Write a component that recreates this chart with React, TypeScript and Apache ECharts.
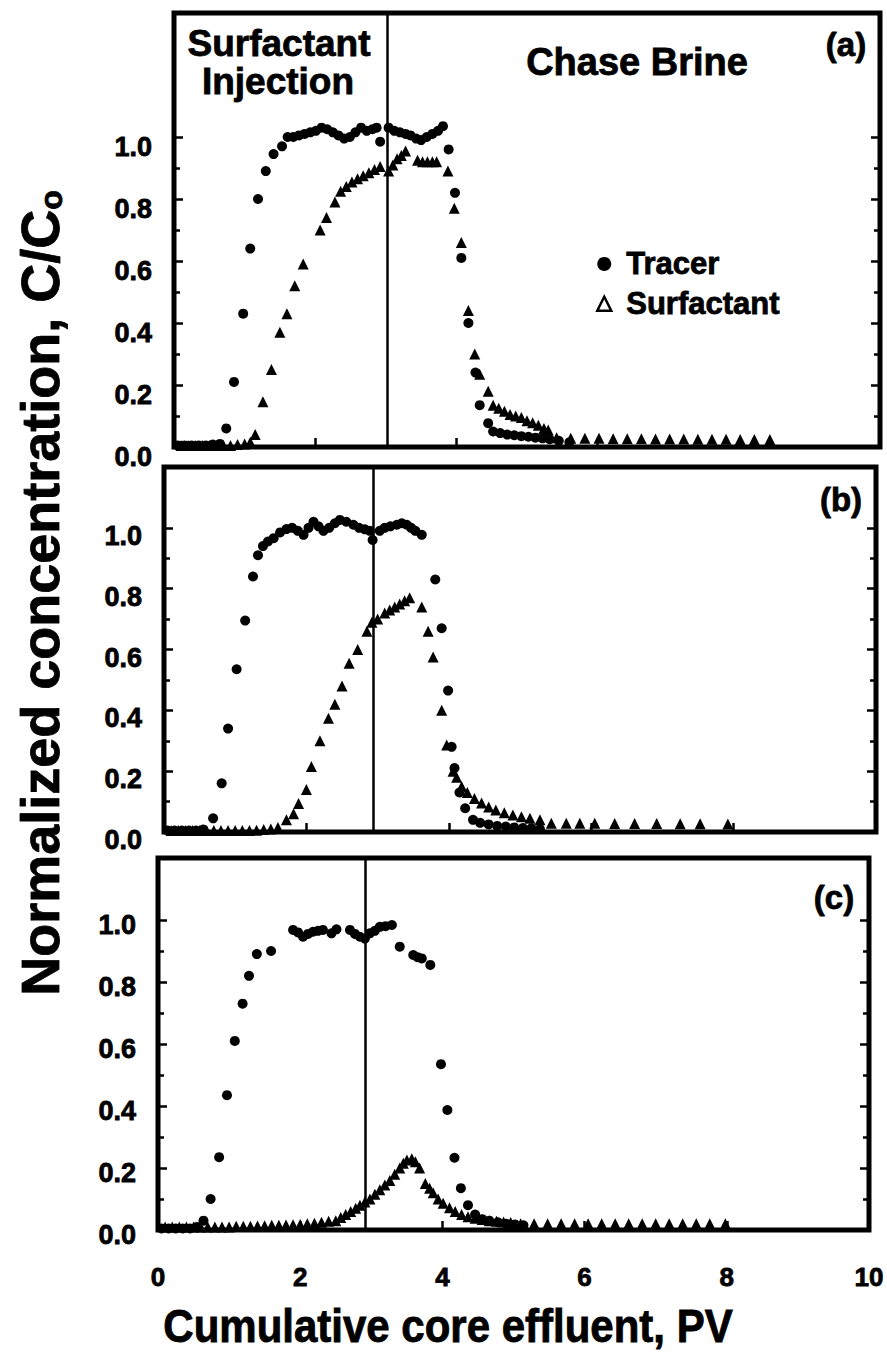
import React, { useEffect, useRef } from "react";
import * as echarts from "echarts";

type Pt = [number, number];

// Axis settings shared by the three stacked panels
const xTickValues = [0, 2, 4, 6, 8, 10];
const yTickValues = [0, 0.2, 0.4, 0.6, 0.8, 1.0];
const yMinorTickValues = [0.1, 0.3, 0.5, 0.7, 0.9];
const panelYMax = [1.4, 1.2, 1.2];
const panelLabels = ["(a)", "(b)", "(c)"];
// Pore volume at which chase-brine injection begins in each run
const brineStartPV = [3.02, 2.94, 2.91];

// ---- Run (a) ----
const tracerA: Pt[] = [
  [0.05, 0.005], [0.15, 0.005], [0.25, 0.005], [0.35, 0.005], [0.45, 0.005], [0.55, 0.008], [0.65, 0.01],
  [0.74, 0.06], [0.85, 0.21], [0.98, 0.43], [1.08, 0.64], [1.19, 0.8], [1.3, 0.89], [1.41, 0.945], [1.53, 0.97],
  [1.61, 1.0], [1.69, 1.0], [1.77, 1.005], [1.85, 1.01], [1.93, 1.015], [2.01, 1.02], [2.09, 1.03], [2.17, 1.025],
  [2.25, 1.015], [2.33, 1.005], [2.41, 0.995], [2.49, 1.0], [2.57, 1.015], [2.65, 1.03], [2.73, 1.02], [2.81, 1.025],
  [2.87, 1.03], [2.92, 0.985], [3.04, 1.03], [3.12, 1.02], [3.2, 1.015], [3.28, 1.01], [3.35, 1.005], [3.43, 0.995],
  [3.5, 0.99], [3.58, 1.0], [3.66, 1.01], [3.74, 1.02], [3.81, 1.035], [3.89, 0.96], [3.98, 0.82], [4.07, 0.61],
  [4.17, 0.4], [4.27, 0.24], [4.33, 0.135], [4.45, 0.077], [4.52, 0.05], [4.62, 0.045], [4.72, 0.04], [4.82, 0.038],
  [4.92, 0.035], [5.02, 0.033], [5.12, 0.03], [5.22, 0.028], [5.32, 0.025], [5.45, 0.02], [5.6, 0.015],
];
const surfactantA: Pt[] = [
  [0.1, 0.005], [0.2, 0.005], [0.3, 0.005], [0.4, 0.005], [0.5, 0.005], [0.6, 0.005], [0.7, 0.005], [0.8, 0.005],
  [0.9, 0.008], [1.0, 0.01], [1.08, 0.015], [1.15, 0.04], [1.26, 0.146], [1.38, 0.25], [1.5, 0.37], [1.6, 0.43],
  [1.71, 0.52], [1.83, 0.59], [2.07, 0.7], [2.16, 0.74], [2.28, 0.79], [2.36, 0.825], [2.44, 0.84], [2.52, 0.855],
  [2.6, 0.865], [2.68, 0.875], [2.76, 0.885], [2.84, 0.895], [2.92, 0.905], [3.04, 0.89], [3.1, 0.91], [3.16, 0.93],
  [3.22, 0.94], [3.28, 0.955], [3.45, 0.925], [3.52, 0.92], [3.59, 0.92], [3.66, 0.92], [3.72, 0.92], [3.88, 0.89],
  [3.97, 0.77], [4.07, 0.66], [4.17, 0.44], [4.26, 0.3], [4.33, 0.235], [4.45, 0.18], [4.52, 0.135], [4.6, 0.125],
  [4.68, 0.115], [4.76, 0.105], [4.84, 0.1], [4.92, 0.095], [5.0, 0.085], [5.08, 0.078], [5.16, 0.07], [5.24, 0.06],
  [5.3, 0.055], [5.42, 0.03], [5.62, 0.028], [5.82, 0.028], [6.02, 0.028], [6.22, 0.027], [6.42, 0.027], [6.62, 0.027],
  [6.82, 0.026], [7.02, 0.026], [7.22, 0.026], [7.42, 0.025], [7.62, 0.025], [7.82, 0.025], [8.02, 0.024], [8.22, 0.024],
  [8.44, 0.024],
];

// ---- Run (b) ----
const tracerB: Pt[] = [
  [0.05, 0.005], [0.15, 0.005], [0.25, 0.005], [0.35, 0.005], [0.45, 0.005], [0.55, 0.008],
  [0.69, 0.045], [0.81, 0.16], [0.9, 0.34], [1.02, 0.535], [1.14, 0.695], [1.25, 0.84], [1.32, 0.91], [1.39, 0.94],
  [1.46, 0.955], [1.54, 0.966], [1.63, 0.985], [1.72, 0.996], [1.8, 1.0], [1.88, 0.99], [1.96, 0.977], [2.03, 1.0],
  [2.1, 1.02], [2.17, 1.005], [2.24, 0.99], [2.32, 1.0], [2.4, 1.015], [2.47, 1.026], [2.56, 1.02], [2.66, 1.01],
  [2.74, 1.0], [2.82, 0.995], [2.89, 0.99], [2.93, 0.96], [3.03, 0.99], [3.1, 1.0], [3.18, 1.005], [3.27, 1.01],
  [3.34, 1.015], [3.41, 1.01], [3.47, 1.0], [3.53, 0.99], [3.62, 0.977], [3.81, 0.83], [3.9, 0.67], [3.99, 0.465],
  [4.04, 0.28], [4.08, 0.21], [4.15, 0.13], [4.23, 0.078], [4.34, 0.04], [4.44, 0.03], [4.56, 0.025], [4.68, 0.02],
  [4.8, 0.018], [4.92, 0.015], [5.04, 0.013], [5.16, 0.012], [5.28, 0.01],
];
const surfactantB: Pt[] = [
  [0.1, 0.005], [0.2, 0.005], [0.3, 0.005], [0.4, 0.005], [0.5, 0.005], [0.6, 0.005], [0.7, 0.005], [0.8, 0.005],
  [0.9, 0.005], [1.0, 0.005], [1.1, 0.005], [1.2, 0.005], [1.3, 0.006], [1.4, 0.008], [1.5, 0.01], [1.6, 0.015],
  [1.72, 0.04], [1.82, 0.06], [1.89, 0.094], [2.0, 0.14], [2.07, 0.215], [2.19, 0.3], [2.31, 0.374], [2.4, 0.42],
  [2.5, 0.48], [2.6, 0.555], [2.72, 0.6], [2.85, 0.66], [2.92, 0.69], [3.0, 0.7], [3.1, 0.72], [3.17, 0.73],
  [3.24, 0.74], [3.31, 0.75], [3.38, 0.76], [3.45, 0.77], [3.62, 0.74], [3.71, 0.66], [3.78, 0.575], [3.9, 0.4],
  [3.97, 0.286], [4.06, 0.2], [4.11, 0.18], [4.18, 0.15], [4.26, 0.13], [4.36, 0.11], [4.46, 0.095], [4.56, 0.082],
  [4.66, 0.072], [4.78, 0.063], [4.9, 0.056], [5.02, 0.05], [5.14, 0.045], [5.28, 0.04], [5.44, 0.029], [5.65, 0.029],
  [5.84, 0.029], [6.05, 0.029], [6.33, 0.028], [6.61, 0.028], [6.92, 0.028], [7.25, 0.027], [7.53, 0.027], [7.92, 0.026],
];

// ---- Run (c) ----
const tracerC: Pt[] = [
  [0.05, 0.005], [0.15, 0.005], [0.25, 0.005], [0.35, 0.005], [0.45, 0.005], [0.55, 0.01],
  [0.64, 0.03], [0.74, 0.1], [0.86, 0.235], [0.97, 0.435], [1.08, 0.61], [1.19, 0.73], [1.28, 0.82], [1.39, 0.89],
  [1.59, 0.9], [1.9, 0.968], [1.97, 0.96], [2.04, 0.946], [2.11, 0.955], [2.18, 0.962], [2.25, 0.965], [2.32, 0.968],
  [2.44, 0.957], [2.51, 0.97], [2.7, 0.968], [2.77, 0.955], [2.84, 0.946], [2.91, 0.94], [2.98, 0.957], [3.05, 0.965],
  [3.12, 0.978], [3.2, 0.98], [3.29, 0.984], [3.4, 0.914], [3.59, 0.887], [3.65, 0.88], [3.71, 0.876], [3.83, 0.855],
  [3.98, 0.535], [4.07, 0.387], [4.17, 0.233], [4.26, 0.135], [4.36, 0.08], [4.46, 0.05], [4.56, 0.035], [4.66, 0.03],
  [4.78, 0.025], [4.9, 0.02], [5.02, 0.018], [5.14, 0.015],
];
const surfactantC: Pt[] = [
  [0.1, 0.01], [0.2, 0.01], [0.3, 0.01], [0.4, 0.01], [0.5, 0.01], [0.6, 0.01], [0.7, 0.01], [0.8, 0.01],
  [0.9, 0.01], [1.0, 0.01], [1.1, 0.012], [1.2, 0.012], [1.3, 0.012], [1.4, 0.013], [1.5, 0.014], [1.6, 0.015],
  [1.7, 0.015], [1.8, 0.016], [1.9, 0.017], [2.0, 0.018], [2.1, 0.02], [2.2, 0.022], [2.3, 0.025], [2.4, 0.028],
  [2.5, 0.03], [2.57, 0.04], [2.64, 0.05], [2.71, 0.06], [2.78, 0.07], [2.84, 0.08], [2.91, 0.09], [2.98, 0.1],
  [3.05, 0.115], [3.12, 0.13], [3.19, 0.145], [3.26, 0.16], [3.33, 0.18], [3.4, 0.2], [3.45, 0.215], [3.5, 0.226],
  [3.57, 0.23], [3.62, 0.22], [3.68, 0.2], [3.76, 0.15], [3.82, 0.135], [3.87, 0.12], [3.94, 0.1], [4.01, 0.086],
  [4.1, 0.072], [4.18, 0.06], [4.27, 0.05], [4.36, 0.043], [4.46, 0.038], [4.56, 0.034], [4.66, 0.03], [4.76, 0.028],
  [4.86, 0.026], [4.96, 0.024], [5.1, 0.02], [5.29, 0.02], [5.48, 0.02], [5.67, 0.02], [5.86, 0.02], [6.05, 0.02],
  [6.24, 0.02], [6.43, 0.02], [6.62, 0.02], [6.81, 0.02], [7.0, 0.02], [7.19, 0.02], [7.38, 0.02], [7.57, 0.02],
  [7.76, 0.02], [7.98, 0.02],
];

const tracerRuns = [tracerA, tracerB, tracerC];
const surfactantRuns = [surfactantA, surfactantB, surfactantC];

const FONT = "'Liberation Sans', Arial, Helvetica, sans-serif";

// Plot rectangles of the three stacked panels (pixels)
const GRIDS = [
  { left: 174, top: 13, width: 706, height: 434 },
  { left: 164, top: 467, width: 712, height: 365 },
  { left: 158, top: 858, width: 711, height: 372 },
];
// Line-box heights that set how far each panel's tick labels sit below their ticks
const LABEL_LINE_HEIGHT = [20, 16, 9];

function buildOption(): echarts.EChartsCoreOption {
  const grid: any[] = [];
  const xAxis: any[] = [];
  const yAxis: any[] = [];
  const series: any[] = [];
  const tickLine = { color: "#000", width: 2.5 };

  GRIDS.forEach((g, i) => {
    grid.push({
      ...g,
      show: true,
      borderColor: "#000",
      borderWidth: 5,
      backgroundColor: "transparent",
    });
    xAxis.push({
      gridIndex: i,
      type: "value",
      min: 0,
      max: 10,
      interval: 2,
      axisLine: { show: false },
      splitLine: { show: false },
      axisTick: { show: true, inside: true, length: 9, lineStyle: tickLine },
      axisLabel: {
        show: i === 2,
        customValues: xTickValues,
        margin: 34,
        color: "#000",
        fontFamily: FONT,
        fontWeight: "bold",
        fontSize: 26,
        textBorderColor: "#000",
        textBorderWidth: 0.8,
      },
    });
    const base = {
      gridIndex: i,
      type: "value",
      min: 0,
      max: panelYMax[i],
      interval: 0.2,
      axisLine: { show: false },
      splitLine: { show: false },
    };
    // left side, major ticks with labels
    yAxis.push({
      ...base,
      position: "left",
      axisTick: { show: true, inside: true, length: 9, customValues: yTickValues, lineStyle: tickLine },
      axisLabel: {
        show: true,
        customValues: yTickValues,
        formatter: (v: number) => v.toFixed(1),
        margin: 22,
        verticalAlign: "top",
        lineHeight: LABEL_LINE_HEIGHT[i],
        color: "#000",
        fontFamily: FONT,
        fontWeight: "bold",
        fontSize: 27,
        textBorderColor: "#000",
        textBorderWidth: 0.8,
      },
    });
    // left side, minor ticks
    yAxis.push({
      ...base,
      position: "left",
      axisTick: { show: true, inside: true, length: 6, customValues: yMinorTickValues, lineStyle: tickLine },
      axisLabel: { show: false },
    });
    // right side, major ticks
    yAxis.push({
      ...base,
      position: "right",
      axisTick: { show: true, inside: true, length: 9, customValues: yTickValues, lineStyle: tickLine },
      axisLabel: { show: false },
    });
    // right side, minor ticks
    yAxis.push({
      ...base,
      position: "right",
      axisTick: { show: true, inside: true, length: 6, customValues: yMinorTickValues, lineStyle: tickLine },
      axisLabel: { show: false },
    });

    series.push({
      name: "Tracer",
      type: "scatter",
      xAxisIndex: i,
      yAxisIndex: i * 4,
      symbol: "circle",
      symbolSize: 10,
      itemStyle: { color: "#000", opacity: 1 },
      emphasis: { disabled: true },
      data: tracerRuns[i],
      markLine: {
        silent: true,
        symbol: "none",
        label: { show: false },
        lineStyle: { color: "#000", width: 2.5, type: "solid", opacity: 1 },
        data: [{ xAxis: brineStartPV[i] }],
      },
    });
    series.push({
      name: "Surfactant",
      type: "scatter",
      xAxisIndex: i,
      yAxisIndex: i * 4,
      symbol: "triangle",
      symbolSize: 11,
      itemStyle: { color: "#000", opacity: 1 },
      emphasis: { disabled: true },
      data: surfactantRuns[i],
    });
  });

  const textStyle = (size: number) => ({
    fill: "#000",
    stroke: "#000",
    lineWidth: 0.8,
    font: `bold ${size}px ${FONT}`,
    textAlign: "center",
    textVerticalAlign: "middle",
    align: "center",
    verticalAlign: "middle",
  });

  const panelTagPos = [
    [846, 44],
    [841, 499],
    [834, 897],
  ];

  const graphic: any[] = [
    { type: "text", x: 279, y: 43, style: { ...textStyle(37), text: "Surfactant" } },
    { type: "text", x: 278, y: 81, style: { ...textStyle(37), text: "Injection" } },
    { type: "text", x: 637, y: 62, style: { ...textStyle(38), text: "Chase Brine" } },
    ...panelLabels.map((t, i) => ({
      type: "text",
      x: panelTagPos[i][0],
      y: panelTagPos[i][1],
      style: { ...textStyle(33), text: t },
    })),
    {
      type: "text",
      x: 448,
      y: 1326,
      scaleY: 1.12,
      style: { ...textStyle(42), text: "Cumulative core effluent, PV" },
    },
    {
      type: "text",
      x: 40,
      y: 593,
      rotation: Math.PI / 2,
      style: {
        ...textStyle(54),
        text: "Normalized concentration, C/C{sub|o}",
        rich: {
          sub: {
            font: `bold 32px ${FONT}`,
            fill: "#000",
            stroke: "#000",
            lineWidth: 0.8,
            padding: [22, 0, 0, 0],
          },
        },
      },
    },
  ];

  return {
    animation: false,
    backgroundColor: "#fff",
    grid,
    xAxis,
    yAxis,
    series,
    graphic,
    legend: {
      orient: "vertical",
      left: 591,
      top: 243,
      itemWidth: 14,
      itemHeight: 14,
      itemGap: 8,
      selectedMode: false,
      data: [
        { name: "Tracer", icon: "circle", itemStyle: { color: "#000", opacity: 1 } },
        {
          name: "Surfactant",
          icon: "triangle",
          itemStyle: { color: "#fff", borderColor: "#000", borderWidth: 2.5, opacity: 1 },
        },
      ],
      textStyle: {
        color: "#000",
        fontFamily: FONT,
        fontWeight: "bold",
        fontSize: 31,
        lineHeight: 28,
        padding: [0, 0, 0, 10],
        textBorderColor: "#000",
        textBorderWidth: 0.8,
      },
    },
  };
}

export default function App() {
  const ref = useRef<HTMLDivElement>(null);

  useEffect(() => {
    if (!ref.current) return;
    const chart = echarts.init(ref.current, undefined, { renderer: "svg" });
    chart.setOption(buildOption());
    return () => chart.dispose();
  }, []);

  return (
    <div
      ref={ref}
      style={{ position: "absolute", left: 0, top: 0, width: 887, height: 1364, background: "#fff" }}
    />
  );
}
